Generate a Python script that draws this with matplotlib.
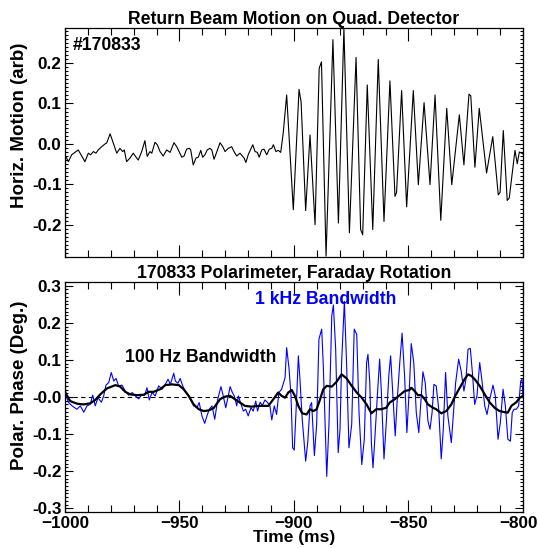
import matplotlib
matplotlib.use("Agg")
import matplotlib.pyplot as plt
from matplotlib.ticker import MultipleLocator, FixedLocator, FixedFormatter
from matplotlib.transforms import ScaledTranslation

plt.rcParams['font.family'] = ['Liberation Sans', 'DejaVu Sans']
plt.rcParams['font.weight'] = 'bold'

# quad detector, horizontal motion (vertices)
qd_t = [-1000, -998.5, -997.1, -994.2, -992.7, -991.3, -989.8, -988.8, -987.6, -986.5,
        -985.5, -984.0, -982.5, -981.8, -980.3, -978.9, -977.4, -976.0, -974.8, -974.1,
        -973.1, -971.6, -970.2, -968.7, -968.0, -966.5, -965.1, -964.1, -962.9, -962.1,
        -960.7, -959.7, -958.5, -957.1, -955.6, -954.1, -952.4, -951.2, -949.0, -948.0,
        -946.9, -945.7, -945.1, -944.0, -942.8, -941.8, -940.7, -939.9, -938.9, -937.9,
        -936.7, -935.9, -934.9, -933.8, -932.3, -931.1, -930.1, -928.7, -927.2, -926.2,
        -925.0, -923.6, -921.8, -921.0, -920.0, -918.0, -917.0, -916.0, -915.2, -914.1,
        -913.1, -911.9, -910.8, -909.7, -909.0, -907.9, -906.9, -905.8, -904.7, -903.2,
        -900.3, -897.8, -896.9, -894.9, -893.0, -890.8, -889.0, -888.0, -886.0, -883.0,
        -880.6, -878.2, -875.8, -872.9, -870.9, -870.0, -868.0, -865.6, -863.2, -860.7,
        -858.1, -855.9, -855.2, -853.0, -850.8, -847.9, -845.7, -843.2, -840.6, -838.4,
        -835.9, -833.3, -831.1, -827.8, -825.8, -823.6, -822.8, -821.0, -819.1, -815.9,
        -813.2, -810.8, -810.0, -808.6, -806.9, -806.0, -803.5, -802.5, -801.6, -800.0]
qd_v = [-0.027, -0.044, -0.027, -0.015, -0.030, -0.044, -0.023, -0.027, -0.019, -0.023,
        -0.015, -0.007, 0.000, 0.002, 0.025, 0.002, -0.023, -0.011, -0.019, -0.015,
        -0.044, -0.035, -0.023, -0.035, -0.040, -0.019, 0.008, -0.031, -0.019, -0.023,
        0.004, -0.002, -0.019, -0.030, -0.015, -0.021, 0.003, -0.007, -0.033, -0.030,
        -0.013, -0.011, -0.015, -0.052, -0.035, -0.033, -0.016, -0.033, -0.027, -0.015,
        -0.011, -0.015, -0.038, -0.021, 0.003, -0.007, -0.019, -0.011, -0.007, -0.019,
        -0.030, -0.023, -0.035, -0.046, -0.027, -0.002, -0.019, -0.021, -0.033, -0.015,
        -0.013, -0.027, -0.013, -0.011, -0.002, -0.019, -0.016, -0.021, 0.027, 0.121,
        -0.163, 0.135, 0.104, -0.165, 0.022, -0.200, 0.187, 0.203, -0.278, 0.258,
        -0.196, 0.286, -0.220, 0.214, -0.212, -0.225, 0.146, -0.212, 0.209, -0.192,
        0.156, -0.130, -0.120, 0.132, -0.156, 0.132, -0.101, 0.102, -0.101, 0.121,
        -0.189, 0.088, -0.101, 0.072, -0.052, 0.123, 0.119, -0.058, 0.088, -0.072,
        0.018, -0.126, -0.120, 0.033, -0.140, -0.134, -0.016, -0.049, -0.020, -0.025]

# polarimeter, 1 kHz bandwidth
fast_t = [-1000, -999.6, -998.4, -996.9, -994.8, -993.3, -991.8, -990.4, -989.0, -987.9,
          -986.8, -985.6, -984.1, -983.1, -982.1, -980.9, -979.8, -978.7, -977.7, -976.6,
          -975.1, -973.7, -972.2, -970.7, -969.3, -967.8, -966.4, -965.2, -964.2, -963.2,
          -962.0, -960.6, -959.1, -957.6, -956.2, -955.0, -954.0, -952.5, -951.8, -950.7,
          -949.7, -948.6, -947.5, -946.3, -945.3, -943.8, -942.4, -941.4, -940.2, -939.0,
          -938.0, -937.0, -935.8, -934.6, -933.3, -931.9, -930.9, -929.8, -928.7, -927.9,
          -926.9, -926.1, -925.0, -924.3, -923.1, -922.1, -921.1, -920.0, -918.8, -917.8,
          -916.7, -915.9, -914.8, -913.8, -912.7, -911.5, -910.5, -909.7, -908.6, -907.6,
          -906.6, -905.4, -903.9, -903.2, -902.2, -901.3, -900.6, -899.9, -898.8, -898.1,
          -897.4, -896.4, -894.9, -894.0, -893.0, -892.3, -891.1, -890.1, -889.1, -887.9,
          -887.2, -885.7, -884.7, -883.5, -882.8, -881.8, -880.7, -879.9, -879.2, -878.0,
          -877.0, -876.0, -874.8, -873.7, -872.6, -871.6, -870.4, -869.3, -868.3, -867.7,
          -866.9, -866.2, -865.5, -864.8, -863.6, -862.6, -861.9, -860.7, -859.7, -858.6,
          -857.8, -856.8, -855.8, -854.9, -853.8, -852.8, -851.7, -850.7, -849.5, -848.8,
          -847.7, -846.6, -845.5, -844.7, -843.7, -842.7, -841.5, -840.6, -839.7, -838.9,
          -837.9, -836.8, -835.7, -834.8, -833.8, -832.8, -831.3, -830.3, -829.4, -828.1,
          -827.0, -825.8, -824.9, -824.0, -823.0, -822.1, -821.1, -820.1, -818.9, -817.9,
          -816.7, -815.7, -814.5, -813.1, -812.1, -810.9, -809.9, -808.7, -807.7, -806.6,
          -805.5, -804.7, -803.9, -802.9, -801.9, -801.0, -800.4, -800.0]
fast_v = [0.045, 0.003, -0.015, -0.024, -0.033, -0.024, -0.041, -0.024, -0.020, 0.005,
          -0.024, -0.002, -0.014, 0.003, 0.032, 0.039, 0.066, 0.043, 0.050, 0.030,
          0.032, 0.016, 0.005, 0.012, 0.003, -0.005, 0.007, 0.005, 0.025, -0.008,
          0.012, 0.003, 0.030, 0.021, 0.034, 0.048, 0.034, 0.064, 0.043, 0.037,
          0.050, 0.030, 0.016, 0.007, -0.006, -0.024, -0.029, -0.015, -0.051, -0.071,
          -0.051, -0.033, -0.024, -0.060, -0.006, 0.028, 0.003, -0.029, 0.003, 0.028,
          0.012, 0.003, -0.024, 0.003, -0.020, -0.038, -0.033, -0.051, -0.029, -0.038,
          -0.011, -0.038, -0.014, -0.023, -0.008, -0.015, -0.024, -0.062, -0.024, -0.047,
          0.012, 0.021, 0.052, 0.133, 0.079, 0.003, -0.137, -0.143, 0.003, 0.111,
          0.048, -0.060, -0.173, -0.123, -0.024, -0.015, -0.158, -0.074, 0.156, 0.183,
          0.084, -0.214, -0.069, 0.219, 0.248, 0.129, -0.150, -0.087, 0.093, 0.258,
          0.084, -0.137, -0.074, 0.183, 0.169, -0.042, -0.182, -0.114, 0.093, 0.115,
          0.039, -0.123, -0.191, -0.123, 0.003, 0.102, 0.021, -0.167, -0.069, 0.057,
          0.111, 0.003, -0.105, -0.006, 0.093, 0.172, 0.057, -0.096, 0.039, 0.144,
          0.093, -0.042, -0.096, -0.024, 0.068, 0.039, -0.065, -0.087, -0.042, 0.034,
          0.030, -0.033, -0.167, -0.087, 0.066, -0.051, -0.123, -0.038, 0.039, 0.102,
          0.070, 0.016, 0.048, 0.129, 0.131, 0.066, -0.020, 0.003, 0.093, 0.043,
          -0.024, -0.047, -0.006, 0.032, 0.003, -0.114, -0.069, 0.021, -0.024, -0.114,
          -0.119, -0.042, -0.033, -0.033, -0.024, 0.043, 0.048, -0.002]

# polarimeter, 100 Hz bandwidth
slow_t = [-1000, -997.7, -994.8, -991.8, -989.0, -986.8, -984.6, -981.7, -978.0, -975.9,
          -973.7, -971.5, -968.6, -965.6, -963.5, -961.3, -958.4, -956.2, -953.3, -950.3,
          -948.2, -946.0, -943.8, -941.6, -939.4, -937.2, -935.1, -932.3, -930.1, -927.9,
          -925.8, -923.6, -921.4, -918.5, -915.6, -911.2, -909.0, -906.9, -905.4, -903.9,
          -902.5, -901.0, -899.6, -898.1, -896.4, -894.5, -893.0, -891.6, -890.1, -888.6,
          -887.2, -885.7, -883.5, -881.4, -879.2, -877.0, -874.8, -872.6, -870.4, -868.3,
          -866.2, -864.1, -861.9, -859.7, -858.2, -856.0, -853.8, -851.7, -849.5, -848.8,
          -847.3, -845.9, -844.4, -842.9, -841.5, -839.3, -837.9, -835.7, -833.5, -831.3,
          -829.6, -827.6, -825.5, -824.0, -822.6, -821.1, -818.9, -816.7, -814.5, -812.4,
          -810.2, -808.0, -806.6, -805.1, -802.9, -801.4, -800.0]
slow_v = [0.013, -0.011, -0.018, -0.020, -0.017, -0.008, 0.007, 0.023, 0.032, 0.028,
          0.014, 0.007, 0.005, 0.006, 0.014, 0.014, 0.021, 0.032, 0.034, 0.032,
          0.021, 0.003, -0.020, -0.033, -0.038, -0.036, -0.030, -0.006, 0.001, 0.003,
          -0.006, -0.015, -0.024, -0.026, -0.024, -0.024, -0.006, 0.012, 0.003, -0.002,
          0.012, 0.019, 0.003, -0.024, -0.044, -0.047, -0.033, -0.038, -0.033, -0.006,
          0.021, 0.030, 0.028, 0.041, 0.061, 0.050, 0.030, 0.012, -0.002, -0.020,
          -0.044, -0.033, -0.033, -0.029, -0.015, -0.006, 0.005, 0.016, 0.019, 0.025,
          0.016, 0.005, 0.005, -0.006, -0.020, -0.029, -0.033, -0.044, -0.038, -0.020,
          0.003, 0.025, 0.048, 0.061, 0.057, 0.048, 0.030, 0.007, -0.015, -0.029,
          -0.038, -0.041, -0.042, -0.024, -0.014, -0.002, 0.003]

shot = "170833"
top_ticks = [-0.2, -0.1, 0.0, 0.1, 0.2]
top_labels = ["-0.2", "-0.1", "0.0", "0.1", "0.2"]
bot_ticks = [-0.3, -0.2, -0.1, 0.0, 0.1, 0.2, 0.3]
bot_labels = ["-0.3", "-0.2", "-0.1", "-0.0", "0.1", "0.2", "0.3"]
x_ticks = [-1000, -950, -900, -850, -800]

fs = 12.7
fig = plt.figure(figsize=(5.38, 5.48), dpi=100)
ax1 = fig.add_axes([0.1208, 0.531, 0.8513, 0.418])
ax2 = fig.add_axes([0.1208, 0.0657, 0.8513, 0.4197])


def style(ax):
    ax.set_xlim(-1000, -800)
    ax.xaxis.set_major_locator(FixedLocator(x_ticks))
    ax.xaxis.set_minor_locator(MultipleLocator(10))
    ax.yaxis.set_minor_locator(MultipleLocator(0.01))
    ax.tick_params(which='both', direction='in', top=True, right=True, width=0.8,
                   labelsize=12.3)
    ax.tick_params(axis='x', which='major', length=9, pad=3)
    ax.tick_params(axis='x', which='minor', length=5)
    ax.tick_params(axis='y', which='major', length=6, pad=2.5)
    ax.tick_params(axis='y', which='minor', length=2.5)
    for s in ax.spines.values():
        s.set_linewidth(0.9)


style(ax1)
ax1.plot(qd_t, qd_v, color='black', lw=0.8)
ax1.set_ylim(-0.28, 0.287)
ax1.yaxis.set_major_locator(FixedLocator(top_ticks))
ax1.yaxis.set_major_formatter(FixedFormatter(top_labels))
ax1.tick_params(axis='x', labelbottom=False)
ax1.set_title("Return Beam Motion on Quad. Detector", fontsize=fs, fontweight='bold', pad=3)
ax1.set_ylabel("Horiz. Motion (arb)", fontsize=13.5, fontweight='bold')
ax1.yaxis.set_label_coords(-0.081, 0.576)
ax1.text(0.018, 0.96, "#" + shot, transform=ax1.transAxes, fontsize=fs,
         fontweight='bold', va='top', ha='left')

style(ax2)
ax2.axhline(0, color='black', lw=0.8, ls=(0, (4, 3)))
ax2.plot(fast_t, fast_v, color='#0000ff', lw=0.8)
ax2.plot(slow_t, slow_v, color='black', lw=1.6)
ax2.set_ylim(-0.31, 0.31)
ax2.yaxis.set_major_locator(FixedLocator(bot_ticks))
ax2.yaxis.set_major_formatter(FixedFormatter(bot_labels))
ax2.set_title(shot + " Polarimeter, Faraday Rotation", fontsize=fs, fontweight='bold', pad=3)
ax2.set_ylabel("Polar. Phase (Deg.)", fontsize=13.5, fontweight='bold')
ax2.yaxis.set_label_coords(-0.081, 0.552)
ax2.set_xlabel("Time (ms)", fontsize=12.5, fontweight='bold', labelpad=-1)
ax2.text(-917, 0.264, "1 kHz Bandwidth", color='#0000ff', fontsize=fs,
         fontweight='bold', va='center', ha='left')
ax2.text(-974, 0.107, "100 Hz Bandwidth", color='black', fontsize=fs,
         fontweight='bold', va='center', ha='left')

# keep the last time label inside the canvas
last = ax2.get_xticklabels()[-1]
last.set_transform(last.get_transform() + ScaledTranslation(-3 / 72, 0, fig.dpi_scale_trans))

fig.savefig("out.png", dpi=100)
